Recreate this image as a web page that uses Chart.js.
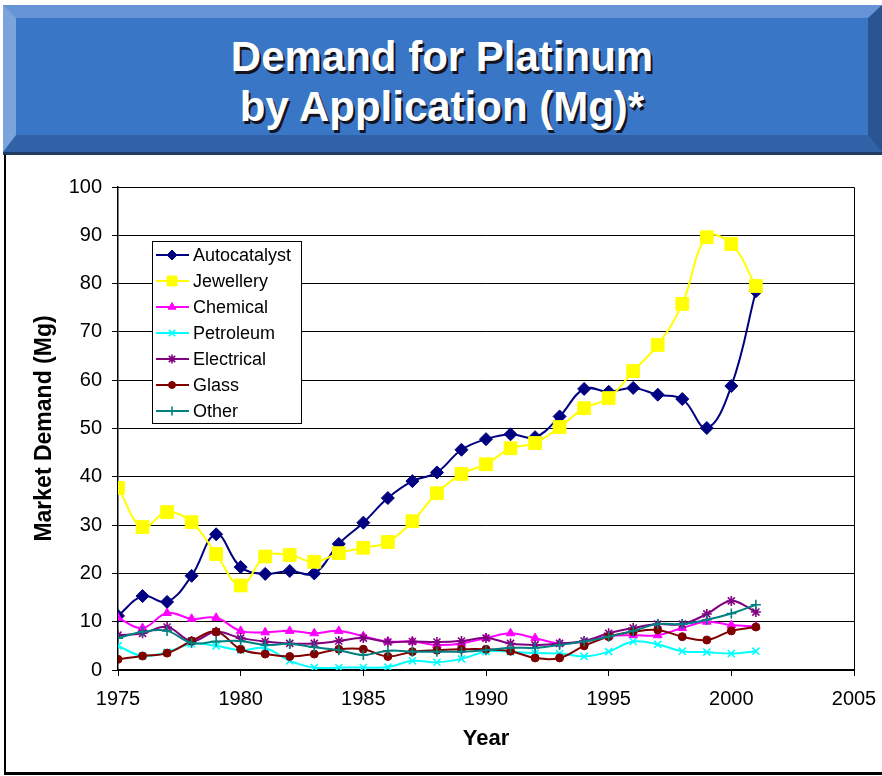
<!DOCTYPE html>
<html>
<head>
<meta charset="utf-8">
<title>Demand for Platinum by Application</title>
<script src="https://cdn.jsdelivr.net/npm/chart.js@4.4.1/dist/chart.umd.min.js"></script>
<style>
    html, body { margin: 0; padding: 0; background: #fff; }
    body { width: 882px; height: 776px; position: relative; overflow: hidden; font-family: "Liberation Sans", Arial, sans-serif; }
    #banner {
        position: absolute; left: 3px; top: 5px; width: 879px; height: 147px;
        box-sizing: border-box; background: #3a76c6;
        border-style: solid; border-width: 13px 14px 17px 13px;
        border-color: #6694d6 #2a5592 #3162a8 #7ba4dd;
    }
    #bannerEdge { position: absolute; left: 3px; top: 152px; width: 879px; height: 3px; background: #1f3b63; }
    #title {
        position: absolute; left: 16px; top: 32px; width: 852px;
        text-align: center; color: #fff; font-weight: bold; font-size: 42px; line-height: 50px;
        text-shadow: 2px 3px 0 #141420;
    }
    #frame { position: absolute; left: 4px; top: 155px; width: 880px; height: 617px; border-left: 2px solid #000; border-bottom: 3px solid #000; }
</style>
</head>
<body>
<div id="banner"></div>
<div id="bannerEdge"></div>
<div id="title">Demand for Platinum<br>by Application (Mg)*</div>
<div id="frame"></div>
<canvas id="platinumChart" width="882" height="616" style="position:absolute;left:0;top:156px;"></canvas>
<script>
// --- Data (Mg per year) ---
const years = [1975, 1976, 1977, 1978, 1979, 1980, 1981, 1982, 1983, 1984, 1985, 1986, 1987, 1988,
               1989, 1990, 1991, 1992, 1993, 1994, 1995, 1996, 1997, 1998, 1999, 2000, 2001];
const autocatalyst = [11.2, 15.3, 14.1, 19.5, 28.1, 21.3, 19.9, 20.5, 20.0, 26.1, 30.5, 35.6, 39.1, 40.9,
                      45.6, 47.8, 48.8, 48.2, 52.5, 58.2, 57.6, 58.4, 57.0, 56.1, 50.1, 58.8, 78.4];
const jewellery = [37.7, 29.6, 32.7, 30.6, 24.0, 17.5, 23.5, 23.8, 22.4, 24.2, 25.3, 26.5, 30.8, 36.6,
                   40.6, 42.6, 45.9, 47.0, 50.3, 54.2, 56.3, 61.9, 67.3, 75.8, 89.6, 88.2, 79.5];
const chemical = [10.8, 8.7, 11.8, 10.6, 10.8, 8.1, 7.8, 8.1, 7.6, 8.1, 7.0, 5.9, 5.9, 5.2,
                  5.5, 6.6, 7.6, 6.6, 5.5, 5.9, 7.0, 7.2, 7.2, 8.7, 10.0, 9.3, 9.0];
const petroleum = [5.0, 2.9, 3.7, 5.4, 5.0, 4.1, 4.5, 1.9, 0.5, 0.5, 0.5, 0.6, 1.9, 1.6,
                   2.3, 3.8, 3.8, 3.5, 3.4, 2.8, 3.8, 5.9, 5.3, 3.9, 3.7, 3.4, 3.9];
const electrical = [7.2, 7.6, 8.9, 6.0, 7.9, 6.6, 5.9, 5.5, 5.5, 6.0, 6.6, 5.8, 5.9, 5.8,
                    6.0, 6.6, 5.5, 5.2, 5.5, 6.0, 7.6, 8.7, 9.5, 9.5, 11.6, 14.3, 12.0];
const glass = [2.2, 2.9, 3.5, 6.0, 7.9, 4.3, 3.3, 2.8, 3.3, 4.3, 4.3, 2.8, 3.8, 4.1,
               4.3, 4.3, 3.9, 2.5, 2.5, 5.0, 6.9, 7.9, 8.3, 6.9, 6.2, 8.1, 8.9];
const other = [6.6, 7.9, 8.1, 5.6, 5.9, 6.0, 5.2, 5.4, 4.7, 4.1, 3.1, 4.0, 3.8, 3.8,
               3.8, 4.1, 4.6, 4.6, 5.2, 5.9, 6.9, 8.1, 9.5, 9.5, 10.4, 11.7, 13.5];

const FONT = '"Liberation Sans", Arial, sans-serif';

// name, values, colour, point style, radius (chart), radius (legend), filled marker
const seriesDefs = [
    ['Autocatalyst', autocatalyst, '#000080', 'rectRot', 6.5, 5, true],
    ['Jewellery', jewellery, '#ffff00', 'rect', 9, 7, true],
    ['Chemical', chemical, '#ff00ff', 'triangle', 5, 4.5, true],
    ['Petroleum', petroleum, '#00ffff', 'crossRot', 5, 4.5, false],
    ['Electrical', electrical, '#800080', 'star', 5, 4.5, false],
    ['Glass', glass, '#800000', 'circle', 4, 3.5, true],
    ['Other', other, '#008080', 'cross', 5, 4.5, false]
];

document.addEventListener('DOMContentLoaded', () => {
    initPlatinumChart();
});

function initPlatinumChart() {
    const ctx = document.getElementById('platinumChart').getContext('2d');

    const datasets = seriesDefs.map((s, i) => ({
        label: s[0],
        data: years.map((yr, k) => ({ x: yr, y: s[1][k] })),
        borderColor: s[2],
        backgroundColor: s[2],
        borderWidth: 2,
        tension: 0.4,
        pointStyle: s[3],
        pointRadius: s[4],
        pointBackgroundColor: s[2],
        pointBorderColor: s[2],
        pointBorderWidth: s[6] ? 1 : 1.6,
        order: seriesDefs.length - i // later series on top, like Excel
    }));

    // Plot frame (top + right edges)
    const framePlugin = {
        id: 'plotFrame',
        beforeDatasetsDraw(chart) {
            const a = chart.chartArea;
            const c = chart.ctx;
            c.save();
            c.strokeStyle = '#000';
            c.lineWidth = 1;
            c.beginPath();
            c.moveTo(a.left, a.top + 0.5);
            c.lineTo(a.right + 0.5, a.top + 0.5);
            c.lineTo(a.right + 0.5, a.bottom + 6);
            c.stroke();
            c.restore();
        }
    };

    // Boxed legend inside the plot, Excel style
    const legendPlugin = {
        id: 'boxLegend',
        afterDraw(chart) {
            const c = chart.ctx;
            const box = { x: 152, y: 85, w: 149, h: 182 };
            c.save();
            c.fillStyle = '#fff';
            c.fillRect(box.x, box.y, box.w, box.h);
            c.strokeStyle = '#000';
            c.lineWidth = 1;
            c.strokeRect(box.x + 0.5, box.y + 0.5, box.w, box.h);
            c.font = '18px ' + FONT;
            c.textBaseline = 'middle';
            seriesDefs.forEach((s, i) => {
                const cy = 99 + i * 26;
                c.strokeStyle = s[2];
                c.lineWidth = 2;
                c.beginPath();
                c.moveTo(156, cy);
                c.lineTo(189, cy);
                c.stroke();
                c.fillStyle = s[2];
                c.lineWidth = s[6] ? 1 : 1.6;
                if (Chart.helpers && Chart.helpers.drawPoint) {
                    Chart.helpers.drawPoint(c, { pointStyle: s[3], radius: s[5], rotation: 0, borderWidth: c.lineWidth }, 172, cy);
                } else {
                    c.beginPath();
                    c.arc(172, cy, s[5], 0, Math.PI * 2);
                    c.fill();
                }
                c.fillStyle = '#000';
                c.fillText(s[0], 193, cy + 1);
            });
            c.restore();
        }
    };

    new Chart(ctx, {
        type: 'line',
        data: { datasets: datasets },
        plugins: [framePlugin, legendPlugin],
        options: {
            responsive: false,
            animation: false,
            devicePixelRatio: 1,
            layout: {
                padding: { left: 0, top: 31, right: 28, bottom: 0 }
            },
            plugins: {
                legend: { display: false },
                tooltip: { enabled: false },
                title: { display: false }
            },
            scales: {
                x: {
                    type: 'linear',
                    min: 1975,
                    max: 2005,
                    afterFit: (scale) => {
                        scale.height = 102;
                        scale.paddingLeft = 0;
                        scale.paddingRight = 0;
                    },
                    border: { color: '#000', width: 1.5 },
                    grid: {
                        drawOnChartArea: false,
                        drawTicks: true,
                        tickLength: 6,
                        color: '#000'
                    },
                    ticks: {
                        stepSize: 5,
                        padding: 11,
                        color: '#000',
                        font: { family: FONT, size: 20 },
                        maxRotation: 0,
                        callback: (v) => String(v)
                    },
                    title: {
                        display: true,
                        text: 'Year',
                        color: '#000',
                        font: { family: FONT, size: 22, weight: 'bold' },
                        padding: { top: 0, bottom: 20 }
                    }
                },
                y: {
                    min: 0,
                    max: 100,
                    afterFit: (scale) => { scale.width = 118; },
                    border: { color: '#000', width: 1.5 },
                    grid: {
                        color: '#000',
                        lineWidth: 1,
                        tickLength: 6
                    },
                    ticks: {
                        stepSize: 10,
                        padding: 10,
                        color: '#000',
                        font: { family: FONT, size: 20 }
                    },
                    title: {
                        display: true,
                        text: 'Market Demand (Mg)',
                        color: '#000',
                        font: { family: FONT, size: 23, weight: 'bold' },
                        padding: { top: 31, bottom: 0 }
                    }
                }
            }
        }
    });
}
</script>
</body>
</html>
